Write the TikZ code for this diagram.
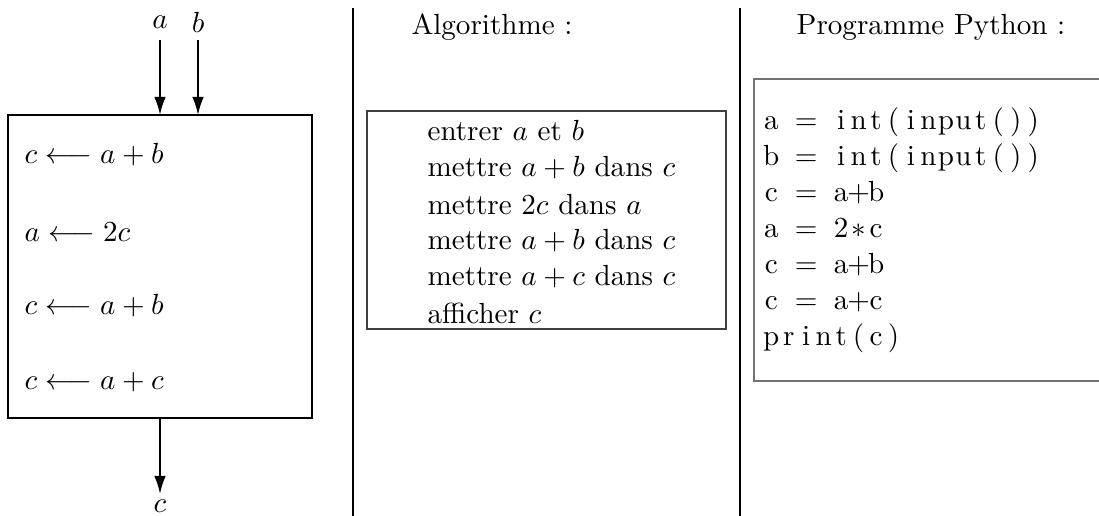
\documentclass[tikz,border=0pt]{standalone}
\usetikzlibrary{arrows.meta}
\newcommand{\cc}[1]{\makebox[6pt][c]{#1}}
\begin{document}
\begin{tikzpicture}[x=0.3436pt,y=-0.3436pt,
  flow/.style={line width=0.7pt,-{Latex[length=6.2pt,width=4pt]}},
  sep/.style={line width=0.4pt},
  lbl/.style={inner sep=0pt,anchor=west},
  algobox/.style={draw=black!75,line width=0.5pt,inner sep=0pt},
  pybox/.style={draw=black!55,line width=0.5pt,inner sep=0pt},
  codeline/.style={inner sep=0pt,anchor=base west}]
\useasboundingbox (0,0) rectangle (1099,516);
% left part
\draw[line width=0.5pt] (8,115) rectangle (312,418);
\coordinate (boxa) at (160,115);
\coordinate (boxb) at (198,115);
\coordinate (boxc) at (160,418);
\coordinate (outc) at (160,494);
\coordinate (ina) at (160,40);
\coordinate (inb) at (198,40);
\node (la) at (160,22) {$a$};
\node (lb) at (198,22) {$b$};
\node[inner sep=0pt,anchor=base] (lc) at (160,513) {$c$};
\draw[flow] (ina) -- (boxa);
\draw[flow] (inb) -- (boxb);
\draw[flow] (boxc) -- (outc);
\node[lbl] (s1) at (24,155) {$c \longleftarrow a+b$};
\node[lbl] (s2) at (24,232) {$a \longleftarrow 2c$};
\node[lbl] (s3) at (24,306) {$c \longleftarrow a+b$};
\node[lbl] (s4) at (24,382) {$c \longleftarrow a+c$};
% separators
\coordinate (t1) at (353,8); \coordinate (b1) at (353,516);
\coordinate (t2) at (740,8); \coordinate (b2) at (740,516);
\draw[sep] (t1) -- (b1);
\draw[sep] (t2) -- (b2);
% algorithm
\node (alg) at (492,27) {Algorithme :};
\draw[algobox] (367,111) rectangle (726,329);
\foreach \yy/\tt in {131/{entrer $a$ et $b$},168/{mettre $a+b$ dans $c$},205/{mettre $2c$ dans $a$},241/{mettre $a+b$ dans $c$},277/{mettre $a+c$ dans $c$},313/{afficher $c$}}
  \node[lbl] at (427,\yy) {\tt};
% python
\node (py) at (931,27) {Programme Python :};
\draw[pybox] (1110,79) -- (754,79) -- (754,381) -- (1110,381);
\node[codeline] (p1) at (762,130) {\cc{a}\cc{}\cc{=}\cc{}\cc{i}\cc{n}\cc{t}\cc{(}\cc{i}\cc{n}\cc{p}\cc{u}\cc{t}\cc{(}\cc{)}\cc{)}};
\node[codeline] (p2) at (762,166) {\cc{b}\cc{}\cc{=}\cc{}\cc{i}\cc{n}\cc{t}\cc{(}\cc{i}\cc{n}\cc{p}\cc{u}\cc{t}\cc{(}\cc{)}\cc{)}};
\node[codeline] (p3) at (762,202) {\cc{c}\cc{}\cc{=}\cc{}\cc{a}\cc{+}\cc{b}};
\node[codeline] (p4) at (762,238) {\cc{a}\cc{}\cc{=}\cc{}\cc{2}\cc{$\ast$}\cc{c}};
\node[codeline] (p5) at (762,274) {\cc{c}\cc{}\cc{=}\cc{}\cc{a}\cc{+}\cc{b}};
\node[codeline] (p6) at (762,310) {\cc{c}\cc{}\cc{=}\cc{}\cc{a}\cc{+}\cc{c}};
\node[codeline] (p7) at (762,346) {\cc{p}\cc{r}\cc{i}\cc{n}\cc{t}\cc{(}\cc{c}\cc{)}};
\end{tikzpicture}
\end{document}
